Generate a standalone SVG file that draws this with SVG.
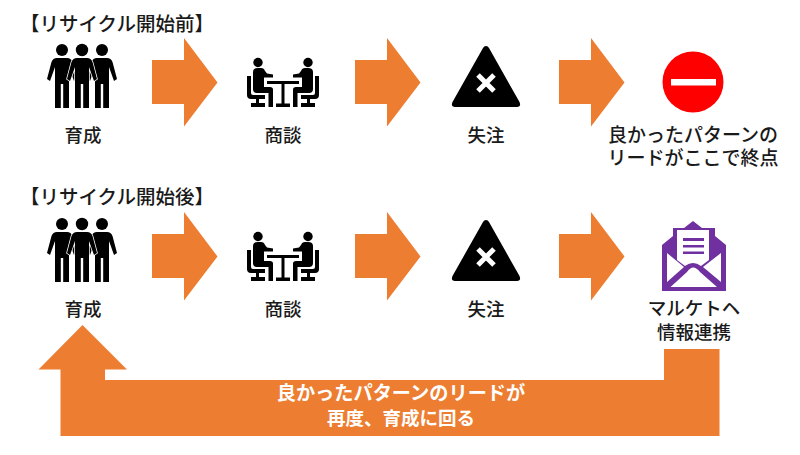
<svg xmlns="http://www.w3.org/2000/svg" xmlns:xlink="http://www.w3.org/1999/xlink" width="800" height="455" viewBox="0 0 800 455">
<style>
text{font-family:"Noto Sans CJK JP","Noto Sans",sans-serif;font-size:18.500px;font-weight:500;fill:#1a1a1a;text-anchor:middle}
.h{text-anchor:start;font-size:19.500px}
.l{font-size:19px}
.w{fill:#fff;font-weight:700}
.o{fill:#ED7D31}
.k{fill:#000}
</style>
<defs>
<path id="arrow" class="o" d="M0 22H32V0L65.500 44.500L32 88.500V66H0Z"/>
<path id="man" d="M-5 0H5Q9 0 10.500 4L15 21L12 23L7 9V50H1.200V26H-1.200V50H-7V9L-12 23L-15 21L-10.500 4Q-9 0 -5 0Z"/>
<g id="people" class="k">
<circle cx="15" cy="6" r="6"/><circle cx="35" cy="6" r="6.200"/><circle cx="55" cy="6" r="6"/>
<use xlink:href="#man" x="15" y="14"/>
<use xlink:href="#man" x="55" y="14"/>
<use xlink:href="#man" x="35" y="14" stroke="#fff" stroke-width="1.500" paint-order="stroke"/>
</g>
<g id="half">
<circle cx="11" cy="5.500" r="4.700"/>
<path d="M6 15Q6 11 11 11H14Q17 11 18 14L20 16.500L26 17.500V20.500H17V30H23Q26 30 26 32.500V50H21.500V36H10Q6 36 6 32Z"/>
<path d="M0 19H4V36Q4 38 6 38H18V42H12V46H18V50H4V46H9V42H4Q0 42 0 38Z"/>
</g>
<g id="meeting" class="k">
<use xlink:href="#half"/>
<use xlink:href="#half" transform="translate(72,0) scale(-1,1)"/>
<path d="M20 24H52V27H37.500V46.500H43V50H29V46.500H34.500V27H20Z"/>
</g>
<g id="fail">
<path class="k" d="M486 46Q488 46 489 48L519.500 102Q521.500 107 517 107H455Q450.500 107 452.500 102L483 48Q484 46 486 46Z"/>
<path d="M478 75L494 91M494 75L478 91" stroke="#fff" stroke-width="5" fill="none"/>
</g>
</defs>

<text class="h" x="20" y="31">【リサイクル開始前】</text>
<text class="h" x="20" y="204">【リサイクル開始後】</text>

<g id="connectors">
<use xlink:href="#arrow" x="152" y="38"/>
<use xlink:href="#arrow" x="355" y="38"/>
<use xlink:href="#arrow" x="559" y="38"/>
<use xlink:href="#arrow" x="152" y="212"/>
<use xlink:href="#arrow" x="355" y="212"/>
<use xlink:href="#arrow" x="559" y="212"/>
<path id="return-arrow" class="o" d="M82.500 325L127 369.500H105V380H664V349H719.500V436H60.500V369.500H38.500Z"/>
<text class="w" x="401" y="400" style="font-size:19.200px">良かったパターンのリードが</text>
<text class="w" x="401" y="425">再度、育成に回る</text>
</g>

<g id="node-top-nurture"><use xlink:href="#people" x="47" y="44"/><text x="83" y="142">育成</text></g>
<g id="node-top-talk"><use xlink:href="#meeting" x="247" y="57"/><text x="283" y="142">商談</text></g>
<g id="node-top-lost"><use xlink:href="#fail"/><text x="486" y="142">失注</text></g>
<g id="node-top-end">
<circle cx="693" cy="82" r="30.500" fill="#FE0000"/><rect x="671" y="79" width="45" height="6.500" fill="#fff"/>
<text class="l" x="693" y="142">良かったパターンの</text>
<text class="l" x="693" y="165">リードがここで終点</text>
</g>

<g id="node-bottom-nurture"><use xlink:href="#people" x="47" y="218"/><text x="83" y="316">育成</text></g>
<g id="node-bottom-talk"><use xlink:href="#meeting" x="247" y="231"/><text x="283" y="316">商談</text></g>
<g id="node-bottom-lost"><use xlink:href="#fail" y="174"/><text x="486" y="316">失注</text></g>
<g id="node-bottom-mail">
<path fill="#7030A0" d="M693 221L702 228H715V236L726 245V291H662V245L673 236V228H684Z"/>
<path fill="#fff" d="M677 230H709V260L701 266Q693 260 685 266L677 260Z"/>
<path fill="#7030A0" d="M683 238H704V241H683ZM683 245H704V247.500H683ZM683 251.500H704V254H683Z"/>
<path fill="#fff" d="M667 253L684 267L667 282ZM721 253L703 267L721 282ZM670.500 287L687 272Q693 263 700 272L717 287Z"/>
<text x="694" y="315">マルケトヘ</text>
<text x="694" y="339">情報連携</text>
</g>
</svg>
